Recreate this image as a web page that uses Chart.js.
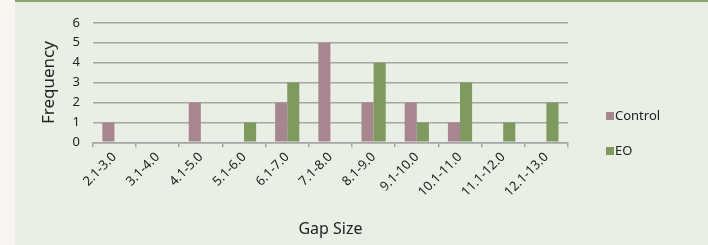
<!DOCTYPE html>
<html>
<head>
<meta charset="utf-8">
<script src="https://cdn.jsdelivr.net/npm/chart.js@4"></script>
<style>
  html, body { margin: 0; padding: 0; background: #f9f6f1; }
  #panel {
    position: absolute; left: 15px; top: 0; width: 693px; height: 245px;
    background: #e9efe4; border-top: 2px solid #8aa66a; box-sizing: border-box;
  }
  #wrap { position: absolute; left: 0; top: 0; width: 693px; height: 243px; }
  #legend { position: absolute; left: 591px; top: 104px; font-family: "Noto Sans", sans-serif; font-size: 13px; color: #222; }
  #legend div { height: 35px; display: flex; align-items: flex-start; }
  #legend span.sw { display: inline-block; width: 8px; height: 8px; margin: 6px 1px 0 0; }
</style>
</head>
<body>
<div id="panel">
  <div id="wrap"><canvas id="grafico"></canvas></div>
  <div id="legend"></div>
</div>
<script>
var categorias = ["2.1-3.0", "3.1-4.0", "4.1-5.0", "5.1-6.0", "6.1-7.0", "7.1-8.0",
  "8.1-9.0", "9.1-10.0", "10.1-11.0", "11.1-12.0", "12.1-13.0"];
var controle = [1, 0, 2, 0, 2, 5, 2, 2, 1, 0, 0];
var eo = [0, 0, 0, 1, 3, 0, 4, 1, 3, 1, 2];
var ticksY = [0, 1, 2, 3, 4, 5, 6];

var corControle = "#a8868f";
var corEO = "#7f9a5f";
var fonte = "'Noto Sans', sans-serif";

var ctx = document.getElementById("grafico").getContext("2d");
var myChart = new Chart(ctx, {
  type: "bar",
  data: {
    labels: categorias,
    datasets: [
      {
        label: "Control",
        data: controle,
        backgroundColor: corControle,
        borderWidth: 0,
        barPercentage: 1,
        categoryPercentage: 0.56,
      },
      {
        label: "EO",
        data: eo,
        backgroundColor: corEO,
        borderWidth: 0,
        barPercentage: 1,
        categoryPercentage: 0.56,
      },
    ],
  },
  options: {
    animation: false,
    responsive: true,
    maintainAspectRatio: false,
    layout: { padding: { left: 24, right: 140, top: 17, bottom: 6 } },
    plugins: {
      legend: { display: false },
      tooltip: { enabled: false },
    },
    scales: {
      x: {
        grid: {
          display: true,
          drawOnChartArea: false,
          drawTicks: true,
          tickLength: 5,
          color: "#a6a6a6",
          lineWidth: 1.5,
        },
        border: { color: "#a6a6a6", width: 1.5 },
        ticks: {
          minRotation: 45,
          maxRotation: 45,
          autoSkip: false,
          color: "#222",
          font: { family: fonte, size: 13 },
          padding: 2,
        },
        title: {
          display: true,
          text: "Gap Size",
          color: "#222",
          font: { family: fonte, size: 16 },
          padding: { top: 18, bottom: 0 },
        },
      },
      y: {
        min: 0,
        max: 6,
        afterBuildTicks: function (axis) {
          axis.ticks = ticksY.map(function (v) { return { value: v }; });
        },
        grid: {
          color: "#a6a6a6",
          lineWidth: 1.5,
          drawTicks: false,
        },
        border: { display: false },
        ticks: {
          color: "#222",
          font: { family: fonte, size: 13 },
          padding: 13,
        },
        title: {
          display: true,
          text: "Frequency",
          color: "#222",
          font: { family: fonte, size: 17 },
          padding: { top: 0, bottom: 0 },
        },
      },
    },
  },
});

// legenda em HTML
(function () {
  var leg = document.getElementById("legend");
  myChart.data.datasets.forEach(function (ds) {
    var item = document.createElement("div");
    item.innerHTML = '<span class="sw" style="background:' + ds.backgroundColor + '"></span>' + ds.label;
    leg.appendChild(item);
  });
})();
</script>
</body>
</html>
